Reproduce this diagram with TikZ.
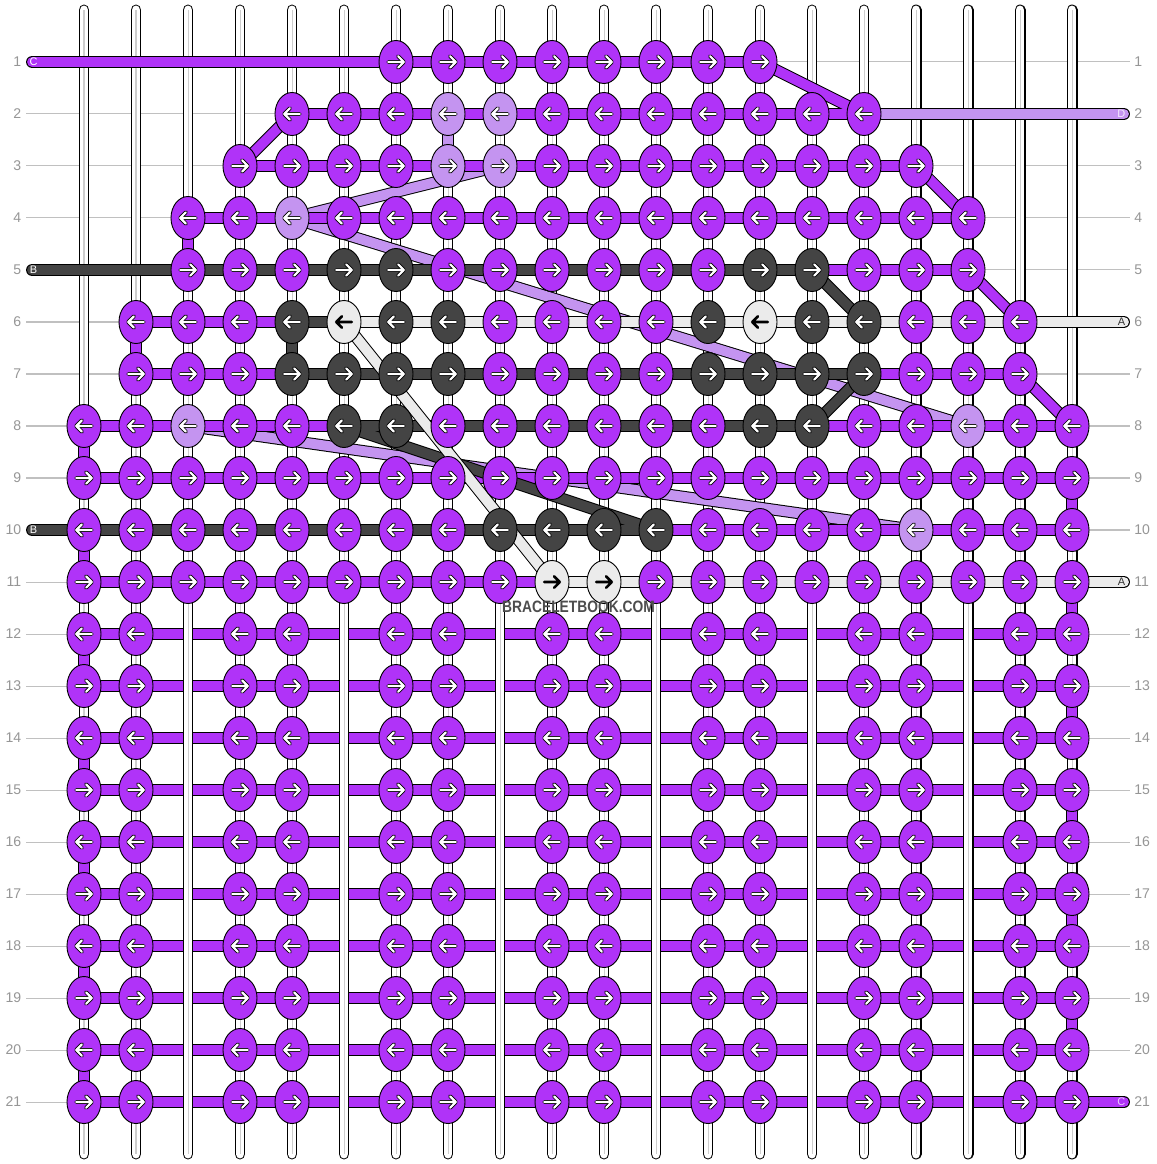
\documentclass[tikz,border=0pt]{standalone}
\usepackage{fontspec}
\setmainfont{Liberation Sans}
\usepackage{graphicx}
\usepackage{tikz}
\usetikzlibrary{shapes.geometric}

\definecolor{cP}{RGB}{176,51,248}
\definecolor{cL}{RGB}{196,148,240}
\definecolor{cK}{RGB}{68,68,68}
\definecolor{cA}{RGB}{235,235,235}
\definecolor{gridgray}{RGB}{192,192,192}
\definecolor{labgray}{RGB}{150,150,150}
\definecolor{midgray}{RGB}{205,205,205}

\pgfdeclarelayer{grid}
\pgfdeclarelayer{vlayer}
\pgfdeclarelayer{strs}
\pgfdeclarelayer{float}
\pgfsetlayers{grid,vlayer,strs,float,main}

% knots that are not purple
\foreach \p/\k in {2-8/cL,2-9/cL,3-8/cL,3-9/cL,4-5/cL,
  5-6/cK,5-7/cK,5-14/cK,5-15/cK,
  6-5/cK,6-6/cA,6-7/cK,6-8/cK,6-13/cK,6-14/cA,6-15/cK,6-16/cK,
  7-5/cK,7-6/cK,7-7/cK,7-8/cK,7-13/cK,7-14/cK,7-15/cK,7-16/cK,
  8-3/cL,8-6/cK,8-7/cK,8-14/cK,8-15/cK,8-18/cL,
  10-9/cK,10-10/cK,10-11/cK,10-12/cK,10-17/cL,
  11-10/cA,11-11/cA}{\expandafter\xdef\csname kc\p\endcsname{\k}}
\newcommand\knotcol[2]{\ifcsname kc#1-#2\endcsname\edef\kcol{\csname kc#1-#2\endcsname}\else\def\kcol{cP}\fi}
\def\colA{cA}

% one knot with its arrow
\newcommand\tieknot[2]{%
  \knotcol{#1}{#2}%
  \ifodd#1\relax\def\sgn{1}\else\def\sgn{-1}\fi
  \ifx\kcol\colA\def\arin{black}\def\arwd{0.5pt}\else\def\arin{white}\def\arwd{1.2pt}\fi
  \node[knot=\kcol] (k#1-#2) at (#2,-#1) {};
  \draw[arw, double=\arin, double distance=\arwd] (k#1-#2.center) ++({-0.15*\sgn},0) -- ++({0.3*\sgn},0)
    ++({-0.11*\sgn},0.11) -- ++({0.11*\sgn},-0.11) -- ++({-0.11*\sgn},-0.11);
}

\begin{document}
\begin{tikzpicture}[
  x=1cm, y=1cm,
  knot/.style={ellipse, draw=black, line width=0.5pt, fill=#1, minimum width=6.54mm, minimum height=8.27mm, inner sep=0pt},
  thread/.style={draw=black, line width=0.55pt, double=#1, double distance=5.4pt, line cap=round, line join=round},
  vthread/.style={draw=black, line width=0.55pt, double=white, double distance=4.9pt, line cap=round},
  arw/.style={draw=black, line width=0.45pt, line cap=round, line join=round},
  rowlab/.style={text=labgray, font=\fontsize{7.7}{8}\selectfont, inner sep=0pt},
  endlab/.style={font=\fontsize{6}{6}\selectfont, inner sep=0pt},
  gridline/.style={draw=gridgray, line width=0.55pt}
]
\useasboundingbox (-0.6154,0.1923) rectangle (21.6154,-22.1923);

\begin{pgfonlayer}{grid}
\fill[white] (-0.6154,0.1923) rectangle (21.6154,-22.1923);
\foreach \r in {1,...,21}{
  \draw[gridline] (-0.115,-\r) -- (21.115,-\r);
  \node[rowlab, anchor=east] (ll\r) at (-0.2,-\r) {\r};
  \node[rowlab, anchor=west] (rl\r) at (21.19,-\r) {\r};
}
\end{pgfonlayer}

% vertical strings
\begin{pgfonlayer}{vlayer}
\foreach \c in {1,...,20}{
  \coordinate (t\c) at (\c,0);
  \coordinate (b\c) at (\c,-22);
  \draw[vthread] (t\c) -- (b\c);
  \draw[midgray, line width=0.55pt] (t\c) -- (b\c);
}
\end{pgfonlayer}
\begin{pgfonlayer}{float}
\foreach \c in {3,6,...,18}{
  \coordinate (f\c) at (\c,-11.55);
  \draw[vthread, line cap=butt] (f\c) -- (b\c);
  \draw[midgray, line width=0.55pt] (f\c) -- (b\c);
}
\end{pgfonlayer}

% knots
\foreach \r/\a/\b in {1/7/14,2/5/16,3/4/17,4/3/18,5/3/18,6/2/19,7/2/19,8/1/20,9/1/20,10/1/20,11/1/20}{
  \foreach \c in {\a,...,\b}{\tieknot{\r}{\c}}
}
\foreach \r in {12,...,21}{
  \foreach \c in {1,2,4,5,7,8,10,11,13,14,16,17,19,20}{\tieknot{\r}{\c}}
}

% working strings
\coordinate (L1) at (0,-1);
\coordinate (L5) at (0,-5);
\coordinate (L10) at (0,-10);
\coordinate (R2) at (21,-2);
\coordinate (R6) at (21,-6);
\coordinate (R11) at (21,-11);
\coordinate (R21) at (21,-21);
\begin{pgfonlayer}{strs}
\draw[thread=cL] (R2) -- (k2-16.center) -- (k2-8.center) -- (k3-8.center) -- (k3-9.center) -- (k4-5.center)
  -- (k8-18.center) -- (k8-3.center) -- (k10-17.center);
\draw[thread=cP] (L1) -- (k1-14.center) -- (k2-16.center) -- (k2-5.center) -- (k3-4.center) -- (k3-17.center)
  -- (k4-18.center) -- (k4-3.center) -- (k5-3.center) -- (k5-18.center) -- (k6-19.center) -- (k6-2.center)
  -- (k7-2.center) -- (k7-19.center)
  \foreach \e/\o in {8/9,10/11,12/13,14/15,16/17,18/19,20/21}{
    -- (k\e-20.center) -- (k\e-1.center) -- (k\o-1.center) -- (k\o-20.center)} -- (R21);
\draw[thread=cK] (L5) -- (k5-15.center) -- (k6-16.center) -- (k6-5.center) -- (k7-5.center) -- (k7-16.center)
  -- (k8-15.center) -- (k8-6.center) -- (k10-12.center) -- (L10);
\draw[thread=cA] (R6) -- (k6-6.center) -- (k11-10.center) -- (R11);
\end{pgfonlayer}

% string ends
\node[endlab, text=white] (tagC1) at ([xshift=0.3mm]L1) {C};
\node[endlab, text=white] (tagB5) at ([xshift=0.3mm]L5) {B};
\node[endlab, text=white] (tagB10) at ([xshift=0.3mm]L10) {B};
\node[endlab, text=white!80!cL] (tagD2) at ([xshift=-0.5mm]R2) {D};
\node[endlab, text=black!80] (tagA6) at ([xshift=-0.5mm]R6) {A};
\node[endlab, text=black!80] (tagA11) at ([xshift=-0.5mm]R11) {A};
\node[endlab, text=white!75!cP] (tagC21) at ([xshift=-0.5mm]R21) {C};

\node[font=\bfseries\fontsize{9}{9}\selectfont, text=cK!95, inner sep=0pt] (wmark) at (10.51,-11.48) {\scalebox{0.84}[1]{BRACELETBOOK.COM}};
\end{tikzpicture}
\end{document}
